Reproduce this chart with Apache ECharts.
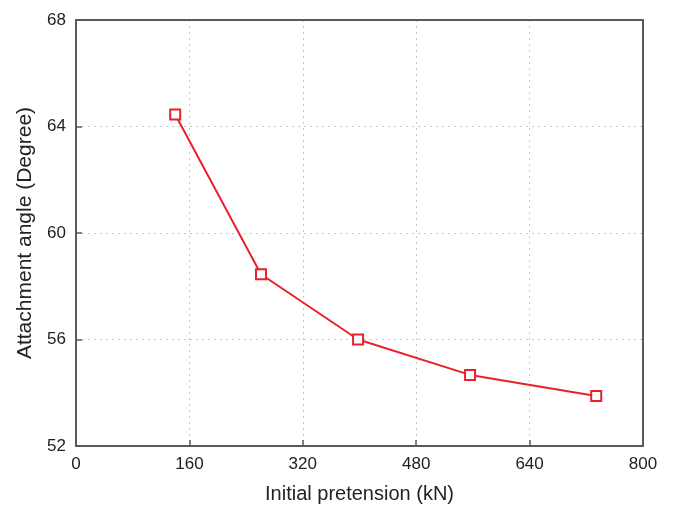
<!DOCTYPE html>
<html><head><meta charset="utf-8">
<script src="https://cdn.jsdelivr.net/npm/echarts@6/dist/echarts.min.js"></script>
<style>html,body{margin:0;padding:0;background:#fff}#c{width:680px;height:505px}</style>
</head><body><div id="c"></div>
<script>
const pretension = [140, 261, 398, 556, 734];
const angle = [64.45, 58.45, 56.0, 54.67, 53.88];
const xTicks = [0, 160, 320, 480, 640, 800];
const yTicks = [52, 56, 60, 64, 68];

const chart = echarts.init(document.getElementById('c'));
const axisCol = '#5a5a5a';
const font = 'Liberation Sans';
const base = {
  axisLine: {show: true, onZero: false, lineStyle: {color: axisCol, width: 2}},
  axisTick: {inside: true, length: 6, lineStyle: {color: axisCol, width: 1.5}},
  axisLabel: {fontFamily: font, fontSize: 17, color: '#222', margin: 10},
  splitLine: {show: true, lineStyle: {color: '#c8c8c8', type: [2, 4], width: 1}}
};
const hidden = {
  axisLine: {show: true, onZero: false, lineStyle: {color: axisCol, width: 2}},
  axisTick: {show: false}, axisLabel: {show: false}, splitLine: {show: false}
};
chart.setOption({
  animation: false,
  grid: {left: 76, right: 37, top: 20, bottom: 59, outerBoundsMode: 'none', containLabel: false},
  xAxis: [Object.assign({
    type: 'value', min: xTicks[0], max: xTicks[xTicks.length-1], interval: 160,
    name: 'Initial pretension (kN)', nameLocation: 'middle', nameGap: 38,
    nameTextStyle: {fontFamily: font, fontSize: 20, color: '#222'}
  }, base), Object.assign({
    type: 'value', position: 'top', min: xTicks[0], max: xTicks[xTicks.length-1], interval: 160
  }, hidden)],
  yAxis: [Object.assign({
    type: 'value', min: yTicks[0], max: yTicks[yTicks.length-1], interval: 4,
    name: 'Attachment angle (Degree)', nameLocation: 'middle', nameGap: 32,
    nameTextStyle: {fontFamily: font, fontSize: 21, color: '#222'}
  }, base), Object.assign({
    type: 'value', position: 'right', min: yTicks[0], max: yTicks[yTicks.length-1], interval: 4
  }, hidden)],
  series: [{
    type: 'line',
    data: pretension.map((x, i) => [x, angle[i]]),
    symbol: 'rect', symbolSize: 10,
    itemStyle: {color: '#fff', borderColor: '#e8212b', borderWidth: 2},
    lineStyle: {color: '#e8212b', width: 2},
    z: 5
  }]
});
</script></body></html>
